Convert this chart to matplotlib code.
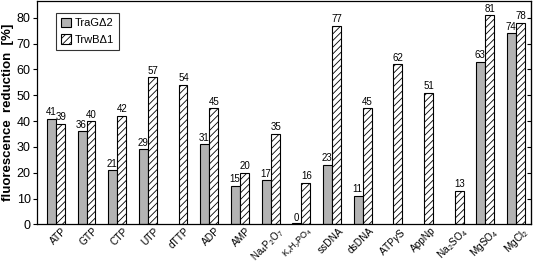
import numpy as np
import matplotlib
matplotlib.use('Agg')
import matplotlib.pyplot as plt

plt.rcParams['font.family'] = ['Liberation Sans', 'DejaVu Sans']
plt.rcParams['mathtext.fontset'] = 'custom'
plt.rcParams['mathtext.rm'] = 'Liberation Sans'
plt.rcParams['mathtext.it'] = 'Liberation Sans:italic'
plt.rcParams['hatch.linewidth'] = 0.6

# Data
categories = ['ATP', 'GTP', 'CTP', 'UTP', 'dTTP', 'ADP', 'AMP',
              r'Na$_4$P$_2$O$_7$', r'K$_x$H$_y$PO$_4$', 'ssDNA', 'dsDNA',
              r'ATP$\gamma$S', 'AppNp', r'Na$_2$SO$_4$', r'MgSO$_4$', r'MgCl$_2$']
trag = [41, 36, 21, 29, None, 31, 15, 17, 0, 23, 11, None, None, None, 63, 74]
trwb = [39, 40, 42, 57, 54, 45, 20, 35, 16, 77, 45, 62, 51, 13, 81, 78]

fig = plt.figure(figsize=(5.35, 2.63), dpi=100)
ax = fig.add_axes([0.069, 0.147, 0.9235, 0.849])

x = np.arange(len(categories))
w = 0.29

for xi, v in zip(x, trag):
    if v is None:
        continue
    ax.bar(xi - w / 2, max(v, 0.5), w, color='#b3b3b3', edgecolor='black', linewidth=0.8)
    ax.text(xi - w / 2 - 0.02, v + 0.6, str(v), ha='center', va='bottom', fontsize=7)

for xi, v in zip(x, trwb):
    ax.bar(xi + w / 2, v, w, color='white', edgecolor='black', linewidth=0.8, hatch='/////')
    ax.text(xi + w / 2 + 0.02, v + 0.6, str(v), ha='center', va='bottom', fontsize=7)

# legend proxies
ax.bar(0, 0, 0, color='#b3b3b3', edgecolor='black', linewidth=0.8, label='TraG\u03942')
ax.bar(0, 0, 0, color='white', edgecolor='black', linewidth=0.8, hatch='/////', label='TrwB\u03941')
leg = ax.legend(loc='upper left', bbox_to_anchor=(0.038, 0.947), fontsize=8,
                fancybox=False, edgecolor='black', handlelength=0.9, handleheight=0.9,
                handletextpad=0.4, borderpad=0.45, labelspacing=0.55, borderaxespad=0)
leg.get_frame().set_linewidth(0.8)

ax.set_xlim(-0.62, 15.49)
ax.set_ylim(0, 86.5)
ax.set_yticks(range(0, 81, 10))
ax.set_xticks(x + 0.2)
ax.set_xticklabels(categories, rotation=45, ha='right', rotation_mode='anchor', fontsize=7.3)
labels = ax.get_xticklabels()
labels[7].set_fontsize(7)
labels[8].set_fontsize(6.5)
ax.tick_params(axis='x', length=0, pad=1)
ax.tick_params(axis='y', labelsize=9, direction='out', length=3, width=0.8, pad=1.5)
for sp in ax.spines.values():
    sp.set_linewidth(0.9)

# inward ticks on the right
sec = ax.secondary_yaxis('right')
sec.set_yticks(range(0, 81, 10))
sec.tick_params(direction='in', length=3, width=0.8, labelright=False)

ax.set_ylabel('fluorescence  reduction  [%]', fontsize=9.5, fontweight='bold', labelpad=2)

fig.savefig('out.png', dpi=100)
